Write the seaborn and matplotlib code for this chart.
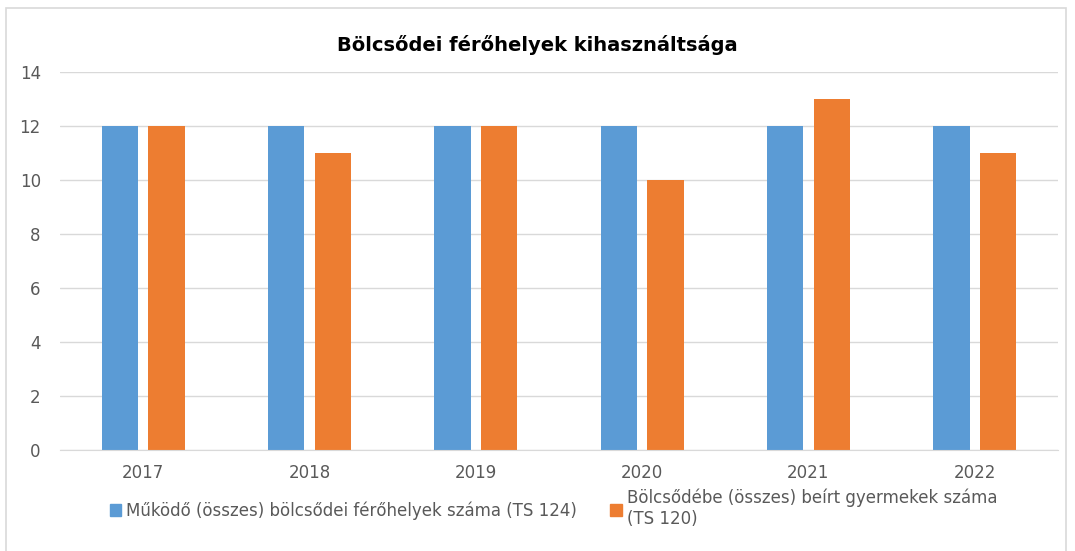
import matplotlib
matplotlib.use("Agg")
import matplotlib.pyplot as plt
import matplotlib.patches as mpatches
import pandas as pd
import seaborn as sns

years = ["2017", "2018", "2019", "2020", "2021", "2022"]
ferohelyek = [12, 12, 12, 12, 12, 12]
beirt = [12, 11, 12, 10, 13, 11]
series_names = [
    "Működő (összes) bölcsődei férőhelyek száma (TS 124)",
    "Bölcsődébe (összes) beírt gyermekek száma\n(TS 120)",
]
colors = ["#5B9BD5", "#ED7D31"]

df = pd.DataFrame({
    "year": years * 2,
    "value": ferohelyek + beirt,
    "series": [series_names[0]] * len(years) + [series_names[1]] * len(years),
})

sns.set_style("white")
plt.rcParams["font.family"] = ["DejaVu Sans"]

fig = plt.figure(figsize=(10.75, 5.51), dpi=100)
ax = fig.add_axes([0.056, 0.183, 0.928, 0.686])

sns.barplot(data=df, x="year", y="value", hue="series", palette=colors,
            width=0.56, gap=0.22, saturation=1, linewidth=0, ax=ax, legend=False)

ax.set_ylim(0, 14)
ax.set_yticks(range(0, 15, 2))
ax.set_xlim(-0.5, 5.5)
ax.set_xlabel("")
ax.set_ylabel("")
ax.yaxis.grid(True, color="#D9D9D9", linewidth=1)
ax.set_axisbelow(True)
for side in ["top", "right", "left"]:
    ax.spines[side].set_visible(False)
ax.spines["bottom"].set_color("#D9D9D9")
ax.tick_params(axis="both", length=0, colors="#595959", labelsize=12)
ax.tick_params(axis="x", pad=10)
ax.tick_params(axis="y", pad=14)

fig.text(0.5, 0.918, "Bölcsődei férőhelyek kihasználtsága", ha="center", va="center",
         fontsize=14, fontweight="bold", color="#000000")

handles = [mpatches.Patch(color=c, label=n) for c, n in zip(colors, series_names)]
fig.legend(handles=handles, loc="upper left", bbox_to_anchor=(0.088, 0.14), ncol=2,
           frameon=False, fontsize=12, handlelength=0.7, handleheight=0.7,
           handletextpad=0.3, columnspacing=2.0, labelspacing=0.2, labelcolor="#595959")

fig.patches.append(mpatches.Rectangle((0.006, -0.01), 0.986, 0.995, transform=fig.transFigure,
                                      fill=False, edgecolor="#D9D9D9", linewidth=1.2))

fig.savefig("out.png", dpi=100)
